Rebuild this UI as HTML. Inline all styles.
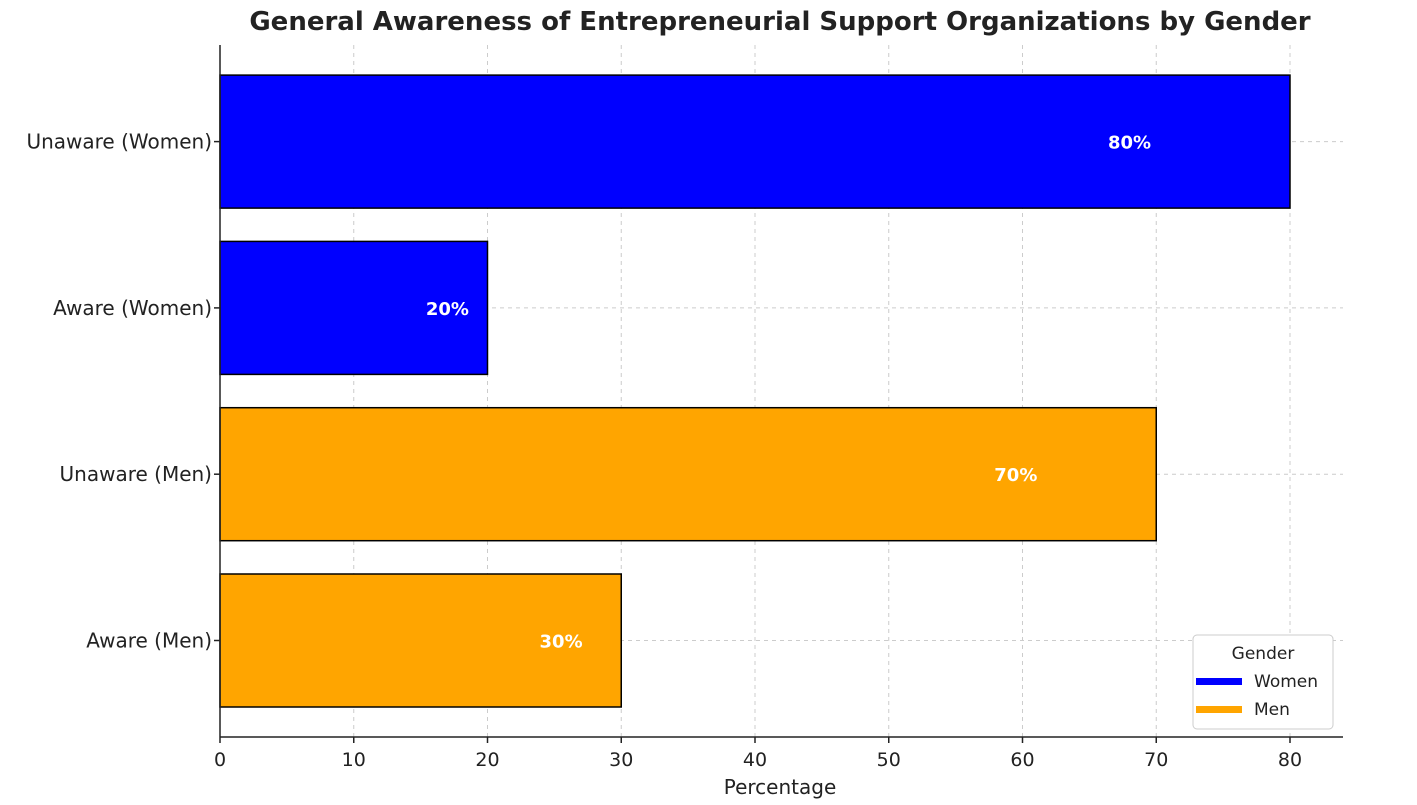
<!DOCTYPE html>
<html><head><meta charset="utf-8"><style>
body{margin:0;background:#fff;}
svg{display:block;font-family:"DejaVu Sans","Liberation Sans",sans-serif;}
</style></head><body>
<svg id="chart" width="1417" height="805" xmlns="http://www.w3.org/2000/svg">
<text x="780" y="30" text-anchor="middle" font-size="26" font-weight="bold" fill="#222">General Awareness of Entrepreneurial Support Organizations by Gender</text>
<g id="grid"></g>
<g id="bars"></g>
<g id="axes"></g>
<text x="780" y="794" text-anchor="middle" font-size="20" fill="#222">Percentage</text>
<g>
<rect x="1193" y="635" width="140" height="94" rx="4" fill="#fff" stroke="#ccc"/>
<text x="1263" y="659" text-anchor="middle" font-size="17" fill="#222">Gender</text>
<rect x="1196" y="678" width="46" height="7" fill="#0000ff"/>
<text x="1254" y="687" font-size="17" fill="#222">Women</text>
<rect x="1196" y="706" width="46" height="7" fill="#ffa500"/>
<text x="1254" y="715" font-size="17" fill="#222">Men</text>
</g>
</svg>
<script>
const categories=["Aware (Men)","Unaware (Men)","Aware (Women)","Unaware (Women)"];
const values=[30,70,20,80];
const colors=["#ffa500","#ffa500","#0000ff","#0000ff"];
const xTicks=[0,10,20,30,40,50,60,70,80];
const NS="http://www.w3.org/2000/svg";
const x0=220,pxPer=(1290-220)/80,xEnd=1343;
const yTop=45,yBot=737;
function xs(v){return x0+v*pxPer;}
function yc(i){return 640.5-i*166.3;}
const bh=133;
function mk(tag,attrs,parent){const e=document.createElementNS(NS,tag);for(const k in attrs)e.setAttribute(k,attrs[k]);parent.appendChild(e);return e;}
const grid=document.getElementById('grid'),bars=document.getElementById('bars'),axes=document.getElementById('axes');
xTicks.forEach(t=>{
 const l=mk('line',{x1:xs(t),x2:xs(t),y1:yTop,y2:yBot,stroke:'#ccc','stroke-dasharray':'4,4'},grid);
 
 
 const tk=mk('line',{x1:xs(t),x2:xs(t),y1:yBot,y2:yBot+6,stroke:'#222','stroke-width':1.5},axes);
 
 
 const tx=mk('text',{x:xs(t),y:yBot+29,'text-anchor':'middle','font-size':19,fill:'#222'},axes);
 tx.textContent=t;
 
 
});
categories.forEach((c,i)=>{
 const gl=mk('line',{x1:x0,x2:xEnd,y1:yc(i),y2:yc(i),stroke:'#ccc','stroke-dasharray':'4,4'},grid);
 
 
 const r=mk('rect',{x:x0,y:yc(i)-bh/2,width:xs(values[i])-x0,height:bh,fill:colors[i],stroke:'#000','stroke-width':1.5},bars);
 
 
 const lb=mk('text',{x:x0+(xs(values[i])-x0)*0.85,y:yc(i)+7,'text-anchor':'middle','font-size':18,'font-weight':'bold',fill:'#fff'},bars);
 lb.textContent=values[i]+'%';
 
 
 const tk=mk('line',{x1:x0-6,x2:x0,y1:yc(i),y2:yc(i),stroke:'#222','stroke-width':1.5},axes);
 
 
 const yl=mk('text',{x:x0-8,y:yc(i)+7,'text-anchor':'end','font-size':20,fill:'#222'},axes);
 yl.textContent=c;
 
 
});
const la=mk('line',{x1:x0,x2:x0,y1:yTop,y2:yBot,stroke:'#222','stroke-width':1.5},axes);


const ba=mk('line',{x1:x0,x2:xEnd,y1:yBot,y2:yBot,stroke:'#222','stroke-width':1.5},axes);


</script>
</body></html>
